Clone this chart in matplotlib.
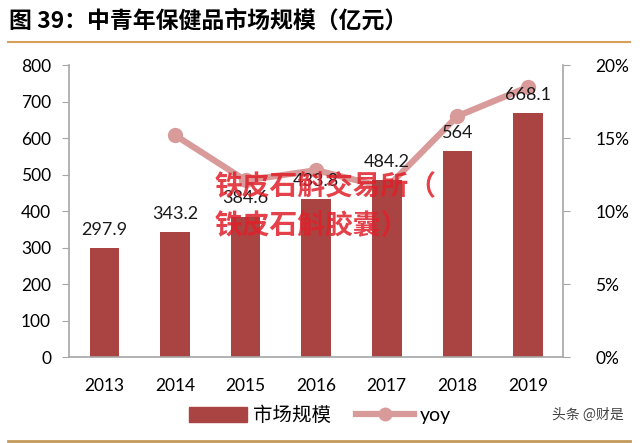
import matplotlib
matplotlib.use("Agg")
import matplotlib.pyplot as plt
from matplotlib.lines import Line2D
from matplotlib.patches import Patch

plt.rcParams['font.family'] = ['Lato', 'Noto Sans CJK SC', 'DejaVu Sans']

years = ['2013', '2014', '2015', '2016', '2017', '2018', '2019']
market = [297.9, 343.2, 384.6, 433.8, 484.2, 564, 668.1]
yoy = [None, 15.2, 12.1, 12.8, 11.6, 16.5, 18.5]

bar_color = '#A94442'
line_color = '#D99A9A'
axis_grey = '#A6A6A6'

fig = plt.figure(figsize=(6.4, 4.43), dpi=100)
ax = fig.add_axes([0.108, 0.194, 0.772, 0.659])
ax2 = ax.twinx()

x = list(range(len(years)))
ax.bar(x, market, width=0.42, color=bar_color, zorder=2)
for xi, v in zip(x, market):
    ax.text(xi, v + 28, f'{v:g}', ha='center', va='bottom', fontsize=13, color='#1a1a1a')

yx = [xi for xi, v in zip(x, yoy) if v is not None]
yv = [v for v in yoy if v is not None]
ax2.plot(yx, yv, color=line_color, lw=4.5, marker='o', ms=10,
         markerfacecolor=line_color, markeredgecolor=line_color)

ax.set_zorder(ax2.get_zorder() + 1)
ax.patch.set_visible(False)

ax.set_xlim(-0.5, 6.5)
ax.set_ylim(0, 800)
ax.set_yticks(range(0, 801, 100))
ax2.set_ylim(0, 20)
ax2.set_yticks(range(0, 21, 5))
ax2.set_yticklabels([f'{t}%' for t in range(0, 21, 5)])
ax.set_xticks(x)
ax.set_xticklabels(years)

for a in (ax, ax2):
    for s in a.spines.values():
        s.set_visible(False)
ax.spines['left'].set_visible(True)
ax.spines['bottom'].set_visible(True)
ax2.spines['right'].set_visible(True)
for s in (ax.spines['left'], ax.spines['bottom'], ax2.spines['right']):
    s.set_color(axis_grey)
    s.set_linewidth(1.2)

ax.tick_params(axis='y', direction='out', length=5, color=axis_grey, labelsize=12.5, pad=8)
ax.tick_params(axis='x', length=0, labelsize=12.5, pad=15)
ax2.tick_params(axis='y', direction='out', length=5, color=axis_grey, labelsize=12.5, pad=18)

# title and rules
fig.text(0.014, 0.952, '图 39：中青年保健品市场规模（亿元）', fontsize=16.5, fontweight='heavy',
         family=['Noto Sans CJK SC'], va='center', ha='left')
fig.add_artist(Line2D([0.012, 0.985], [0.905, 0.905], color='#D4A15A', lw=1.5))
fig.add_artist(Line2D([0.012, 0.985], [0.004, 0.004], color='#C49A5A', lw=2))

handles = [Patch(facecolor=bar_color, edgecolor=bar_color),
           Line2D([0], [0], color=line_color, lw=4.5, marker='o', ms=9)]
fig.legend(handles, ['市场规模', 'yoy'], loc='center', bbox_to_anchor=(0.5, 0.063),
           ncol=2, frameon=False, fontsize=14, handlelength=3.0, handleheight=0.8,
           columnspacing=1.3, handletextpad=0.3)

fig.text(0.975, 0.063, '头条 @财是', fontsize=10, color='#444444', ha='right', va='center',
         family=['Noto Sans CJK SC'])

# red watermark overlay
fig.text(0.335, 0.578, '铁皮石斛交易所（', fontsize=20, fontweight='bold', color='#E0202A',
         alpha=0.85, family=['Noto Sans CJK SC'], ha='left', va='center')
fig.text(0.335, 0.49, '铁皮石斛胶囊）', fontsize=20, fontweight='bold', color='#E0202A',
         alpha=0.85, family=['Noto Sans CJK SC'], ha='left', va='center')

fig.savefig('out.png', dpi=100)
